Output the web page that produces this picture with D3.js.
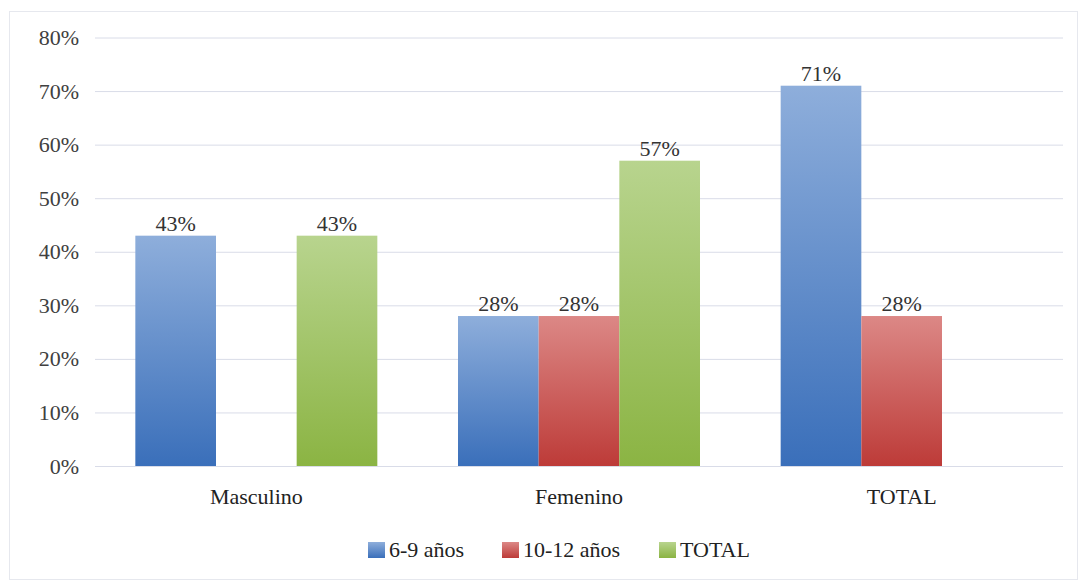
<!DOCTYPE html>
<html><head><meta charset="utf-8">
<script src="https://cdn.jsdelivr.net/npm/d3@7"></script>
<style>body{margin:0;background:#fff}svg{display:block}</style>
</head><body><svg id="c" width="1082" height="580"></svg>
<script>
const categories = ["Masculino", "Femenino", "TOTAL"];
const seriesNames = ["6-9 años", "10-12 años", "TOTAL"];
const s69 = [0.43, 0.28, 0.71];
const s1012 = [null, 0.28, 0.28];
const sTotal = [0.43, 0.57, null];
const yTicks = [0, 0.1, 0.2, 0.3, 0.4, 0.5, 0.6, 0.7, 0.8];
const seriesValues = [s69, s1012, sTotal];
const colors = [["#8eaedb", "#3a6fba"], ["#dc8886", "#bd3b38"], ["#b8d48e", "#8bb443"]];
const FONT = "Times New Roman, Liberation Serif, Tinos, DejaVu Serif, serif";

const svg = d3.select("#c");
const W = 1082, H = 580;
const m = {l: 95, r: 19, t: 37.5, b: 114};
svg.append("rect").attr("x", 9.5).attr("y", 11.5).attr("width", W - 14).attr("height", H - 12)
  .attr("fill", "#fff").attr("stroke", "#e6e8ee");

const defs = svg.append("defs");
colors.forEach((c, i) => {
  const g = defs.append("linearGradient").attr("id", "g" + i).attr("x1", 0).attr("y1", 0).attr("x2", 0).attr("y2", 1);
  g.append("stop").attr("offset", "0%").attr("stop-color", c[0]);
  g.append("stop").attr("offset", "100%").attr("stop-color", c[1]);
});

const x = d3.scaleBand().domain(categories).range([m.l, W - m.r]).paddingInner(0).paddingOuter(0);
const x1 = d3.scaleBand().domain(d3.range(3)).range([0, x.bandwidth()]).paddingInner(0).paddingOuter(0.5);
const y = d3.scaleLinear().domain([0, 0.8]).range([H - m.b, m.t]);

const gy = svg.append("g").attr("transform", `translate(${m.l},0)`)
  .call(d3.axisLeft(y).tickValues(yTicks).tickFormat(d3.format(".0%")).tickSize(-(W - m.l - m.r)).tickPadding(16));
gy.select(".domain").remove();
gy.selectAll(".tick line").attr("stroke", "#d9dce8");
gy.selectAll(".tick text").attr("font-size", 22).attr("fill", "#404040");

const gx = svg.append("g").attr("transform", `translate(0,${H - m.b})`)
  .call(d3.axisBottom(x).tickSize(0).tickPadding(22));
gx.select(".domain").remove();
gx.selectAll(".tick text").attr("font-size", 22).attr("fill", "#222");

const groups = svg.append("g").selectAll("g").data(categories).join("g")
  .attr("transform", d => `translate(${x(d)},0)`);
groups.each(function(cat, ci) {
  const g = d3.select(this);
  seriesValues.forEach((vals, si) => {
    const v = vals[ci];
    if (v == null) return;
    g.append("rect").attr("x", x1(si)).attr("width", x1.bandwidth())
      .attr("y", y(v)).attr("height", y(0) - y(v)).attr("fill", `url(#g${si})`);
    g.append("text").attr("x", x1(si) + x1.bandwidth() / 2).attr("y", y(v) - 5)
      .attr("text-anchor", "middle").attr("font-size", 22).attr("fill", "#333")
      .text(d3.format(".0%")(v));
  });
});

// legend
const legendX = [368, 502, 659];
const lg = svg.append("g");
seriesNames.forEach((n, i) => {
  lg.append("rect").attr("x", legendX[i]).attr("y", 542).attr("width", 17).attr("height", 16).attr("fill", `url(#g${i})`);
  lg.append("text").attr("x", legendX[i] + 21).attr("y", 557).attr("font-size", 22).attr("fill", "#222").text(n);
});
svg.selectAll("g").attr("font-family", null);
svg.selectAll("text").attr("font-family", FONT);
</script></body></html>
